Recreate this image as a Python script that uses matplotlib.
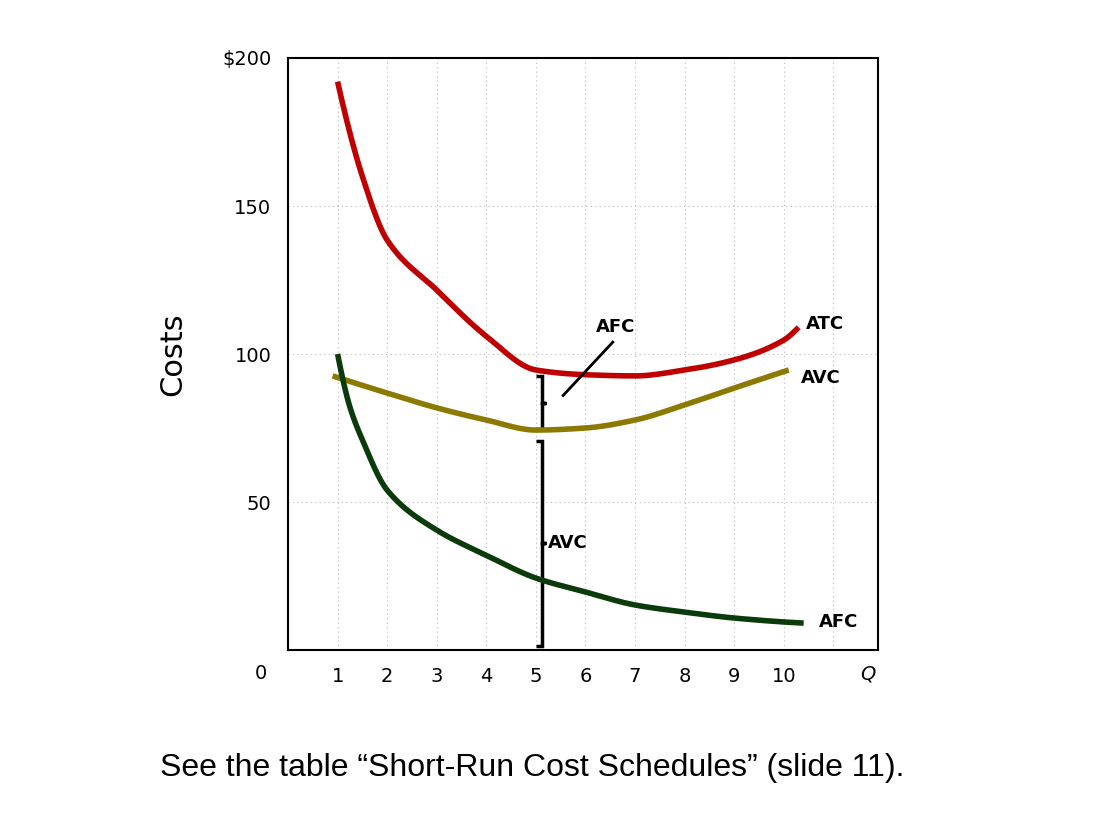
import matplotlib
matplotlib.use("Agg")
import matplotlib.pyplot as plt
import numpy as np
from matplotlib.path import Path
from matplotlib.patches import PathPatch

atc_q = [1.0, 1.5, 2, 3, 4, 5, 6, 7, 8, 9, 10, 10.3]
atc_c = [192, 160, 138.5, 121.6, 106, 94.6, 93, 92.6, 94.6, 98, 104.7, 109]
avc_q = [0.9, 2, 3, 4, 5, 6, 7, 8, 9, 10.1]
avc_c = [92.6, 86.8, 81.8, 77.7, 74.3, 75, 77.7, 82.8, 88.5, 94.6]
afc_q = [1.0, 1.25, 1.5, 2, 3, 4, 5, 6, 7, 8, 9, 10.4]
afc_c = [100, 82, 71, 54, 40.5, 32, 24.3, 19.6, 15.2, 12.8, 10.8, 9.1]
x_ticks = [1, 2, 3, 4, 5, 6, 7, 8, 9, 10]
y_ticks = [50, 100, 150]

fig = plt.figure(figsize=(11.12, 8.14), dpi=100)
ax = fig.add_axes([288/1112, 1-650/814, 590/1112, 592/814])
ax.set_xlim(0, 11.9)
ax.set_ylim(0, 200)

for x in x_ticks + [11]:
    ax.axvline(x, color="#bbbbbb", lw=0.8, ls=(0, (1, 3)), zorder=0)
for y in y_ticks:
    ax.axhline(y, color="#bbbbbb", lw=0.8, ls=(0, (1, 3)), zorder=0)

def smooth(q, c):
    q = np.array(q); c = np.array(c)
    t = np.linspace(q[0], q[-1], 300)
    from numpy import interp
    # monotone-ish smoothing via cubic on parameter
    coeffs = None
    try:
        from scipy.interpolate import PchipInterpolator
        return t, PchipInterpolator(q, c)(t)
    except Exception:
        return t, interp(t, q, c)

for q, c, col in [(atc_q, atc_c, "#c00000"), (avc_q, avc_c, "#8c7a00"), (afc_q, afc_c, "#0b3a0b")]:
    t, v = smooth(q, c)
    ax.plot(t, v, color=col, lw=4, solid_capstyle="butt")

def brace(ax, x, y0, y1, w=0.2):
    ym = (y0 + y1) / 2
    verts = [(x, y0), (x + w*0.6, y0), (x + w*0.6, y0 + 2), (x + w*0.6, ym - 2),
             (x + w*0.6, ym), (x + w, ym), (x + w*0.6, ym),
             (x + w*0.6, ym + 2), (x + w*0.6, y1 - 2), (x + w*0.6, y1), (x, y1)]
    ax.add_patch(PathPatch(Path(verts), fill=False, lw=2.5, color="black"))

brace(ax, 5.0, 74.5, 92.5)
brace(ax, 5.0, 1.5, 70.5)
ax.plot([5.55, 6.55], [86, 104], color="black", lw=2)

fs = 13
ax.text(6.6, 106, "AFC", fontsize=fs, fontweight="bold", ha="center", va="bottom")
ax.text(5.65, 36, "AVC", fontsize=fs, fontweight="bold", ha="center", va="center")
ax.text(10.45, 110, "ATC", fontsize=fs, fontweight="bold", va="center")
ax.text(10.35, 92, "AVC", fontsize=fs, fontweight="bold", va="center")
ax.text(10.7, 9.5, "AFC", fontsize=fs, fontweight="bold", va="center")

ax.set_xticks(x_ticks)
ax.set_xticklabels([str(v) for v in x_ticks], fontsize=14)
ax.set_yticks([0] + y_ticks + [200])
ax.set_yticklabels(["", "50", "100", "150", "$200"], fontsize=14)
ax.tick_params(length=0, pad=12)
ax.text(-0.55, -8, "0", fontsize=14, ha="center", va="center")
ax.text(11.7, -8, "Q", fontsize=14, style="italic", ha="center", va="center")
for sp in ax.spines.values():
    sp.set_linewidth(1.5)
ax.set_ylabel("Costs", fontsize=22, labelpad=25)

fig.text(0.479, 1-768/814, "See the table \u201cShort-Run Cost Schedules\u201d (slide 11).",
         fontsize=23, ha="center", va="center", family="Liberation Sans")
fig.savefig("out.png", dpi=100)
